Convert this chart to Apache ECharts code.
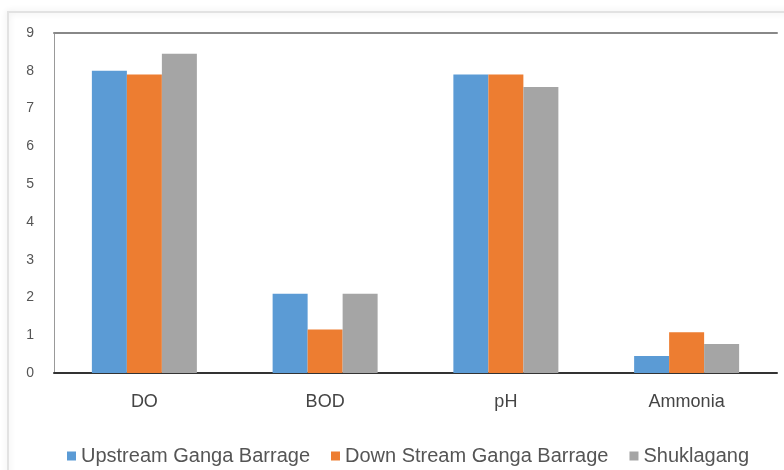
<!DOCTYPE html>
<html>
<head>
<meta charset="utf-8">
<script src="https://cdn.jsdelivr.net/npm/echarts@6/dist/echarts.min.js"></script>
<style>
  html, body { margin: 0; padding: 0; background: #fff; }
  #chart { width: 784px; height: 470px; }
</style>
</head>
<body>
<div id="chart"></div>
<script>
var categories = ['DO', 'BOD', 'pH', 'Ammonia'];
var seriesNames = ['Upstream Ganga Barrage', 'Down Stream Ganga Barrage', 'Shuklagang'];
var upstream = [8.0, 2.1, 7.9, 0.45];
var downstream = [7.9, 1.15, 7.9, 1.08];
var shuklagang = [8.45, 2.1, 7.57, 0.77];
var colors = ['#5B9BD5', '#ED7D31', '#A5A5A5'];

var myChart = echarts.init(document.getElementById('chart'));
var font = '"Liberation Sans", sans-serif';

var option = {
    animation: false,
    color: colors,
    graphic: [{
        type: 'rect',
        shape: { x: 8, y: 12, width: 800, height: 480 },
        style: { fill: 'none', stroke: '#e2e2e2', lineWidth: 2,
                 shadowBlur: 6, shadowColor: 'rgba(0,0,0,0.12)' },
        z: -1
    }],
    grid: { left: 54, right: 7, top: 33, bottom: 97 },
    legend: {
        top: 441,
        left: 62,
        itemWidth: 9,
        itemHeight: 9,
        itemGap: 21,
        icon: 'rect',
        textStyle: { color: '#555', fontSize: 20, fontFamily: font },
        data: seriesNames
    },
    xAxis: [{
        type: 'category',
        data: categories,
        axisLine: { lineStyle: { color: '#333', width: 2 } },
        axisTick: { show: false },
        axisLabel: { color: '#444', fontSize: 18, fontFamily: font, margin: 20 }
    }, {
        type: 'category',
        position: 'top',
        data: categories,
        axisLine: { lineStyle: { color: '#888', width: 2 } },
        axisTick: { show: false },
        axisLabel: { show: false }
    }],
    yAxis: {
        type: 'value',
        min: 0,
        max: 9,
        interval: 1,
        axisLine: { show: true, lineStyle: { color: '#999', width: 1 } },
        axisTick: { show: false },
        splitLine: { show: false },
        axisLabel: { color: '#555', fontSize: 14, fontFamily: font, margin: 20 }
    },
    series: [
        { name: seriesNames[0], type: 'bar', data: upstream, barWidth: 35, barGap: '0%', barCategoryGap: '42%' },
        { name: seriesNames[1], type: 'bar', data: downstream, barWidth: 35, barGap: '0%' },
        { name: seriesNames[2], type: 'bar', data: shuklagang, barWidth: 35, barGap: '0%' }
    ]
};

myChart.setOption(option);
</script>
</body>
</html>
